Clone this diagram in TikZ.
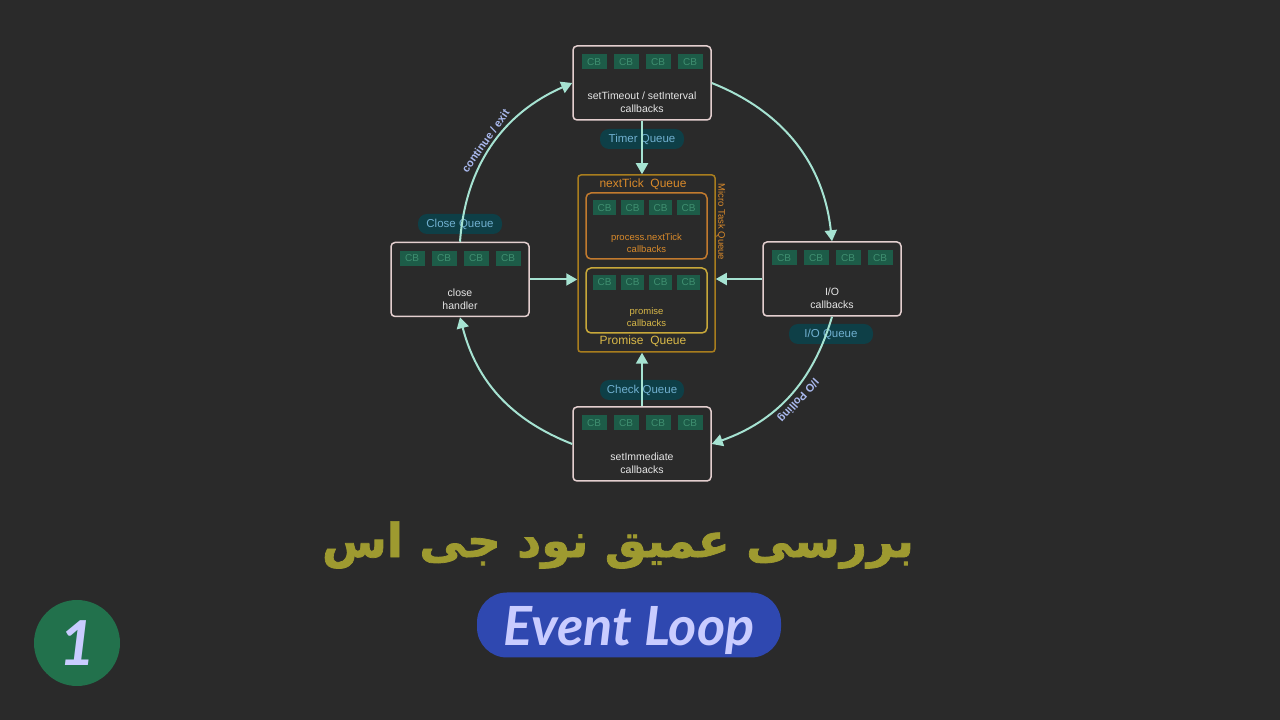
\documentclass[tikz,border=0pt]{standalone}
\usepackage{fontspec}
\setmainfont{Liberation Sans}
\newfontfamily\arabicfont[Script=Arabic,BoldFeatures={FakeBold=1.5}]{DejaVu Sans}
\newfontfamily\brushfont{Lato}
\TeXXeTstate=1
\usetikzlibrary{arrows.meta,positioning,calc,shapes.geometric}

\definecolor{bg}{HTML}{2A2A2A}
\definecolor{boxline}{HTML}{E4CFCF}
\definecolor{boxtext}{HTML}{E6E6E6}
\definecolor{cbfill}{HTML}{1D5C48}
\definecolor{cbtext}{HTML}{3F8F70}
\definecolor{microline}{HTML}{A87D1E}
\definecolor{tickline}{HTML}{C27A2E}
\definecolor{ticktext}{HTML}{D98A2B}
\definecolor{promline}{HTML}{C8A83A}
\definecolor{promtext}{HTML}{D8B848}
\definecolor{mint}{HTML}{A6E3D2}
\definecolor{pillfill}{HTML}{0E3F47}
\definecolor{pilltext}{HTML}{70B0D0}
\definecolor{arctext}{HTML}{AAB9EE}
\definecolor{persian}{HTML}{9E9A30}
\definecolor{evfill}{HTML}{2F48B0}
\definecolor{evtext}{HTML}{C9CCFF}
\definecolor{numfill}{HTML}{22714C}

\begin{document}
\begin{tikzpicture}[x=1pt,y=1pt,
		% Styles
		phase/.style={rectangle, draw=boxline, line width=1.5pt, rounded corners=4pt, fill=bg, minimum width=138pt, minimum height=74pt, inner sep=0pt},
		phasetext/.style={text=boxtext, font=\fontsize{10.5}{13}\selectfont, align=center},
		cb/.style={rectangle, fill=cbfill, text=cbtext, font=\fontsize{10}{10}\selectfont, minimum width=25pt, minimum height=15pt, inner sep=0pt},
		smallcb/.style={cb, minimum width=23pt},
		micro/.style={rectangle, draw=microline, line width=1.5pt, rounded corners=3pt, minimum width=137pt, minimum height=177pt, inner sep=0pt},
		inner/.style={rectangle, line width=1.5pt, rounded corners=5pt, minimum width=121pt, minimum height=65pt, inner sep=0pt},
		queue/.style={rectangle, rounded corners=9pt, fill=pillfill, text=pilltext, font=\fontsize{11.5}{12}\selectfont, minimum width=84pt, minimum height=20pt, inner sep=2pt},
		arclabel/.style={text=arctext, font=\bfseries\fontsize{11}{11}\selectfont, inner sep=3pt},
		% Arrows
		flow/.style={-{Triangle[length=11pt,width=12pt]}, line width=2pt, draw=mint},
		]

		% Background
		\fill[bg] (0,0) rectangle (1280,720);
		\path[use as bounding box] (0,0) rectangle (1280,720);

		% Loop phases
		\node[phase] (timers) at (642,637) {};
		\node[phase] (close) at (460,440.5) {};
		\node[phase] (io) at (832,441) {};
		\node[phase] (immediate) at (642,276) {};

		\node[phasetext] (timers-txt) at ([yshift=-19.5]timers.center) {setTimeout / setInterval\\callbacks};
		\node[phasetext] (close-txt) at ([yshift=-19.5]close.center) {close\\handler};
		\node[phasetext] (io-txt) at ([yshift=-19.5]io.center) {I/O\\callbacks};
		\node[phasetext] (immediate-txt) at ([yshift=-19.5]immediate.center) {setImmediate\\callbacks};

		\foreach \p in {timers,close,io,immediate}
			\foreach \dx [count=\i] in {-48,-16,16,48}
				\node[cb] (\p-cb\i) at ($(\p.center)+(\dx,21)$) {CB};

		% Micro task queue
		\node[micro] (microq) at (646.5,456.5) {};
		\node[font=\fontsize{12}{12}\selectfont, text=ticktext] (ticklabel) at (643,536) {nextTick\ \ Queue};
		\node[font=\fontsize{12}{12}\selectfont, text=promtext] (promlabel) at (643,379) {Promise\ \ Queue};
		\node[font=\fontsize{9.5}{9.5}\selectfont, text=ticktext, rotate=-90] (microlabel) at (721,498) {Micro Task Queue};

		\node[inner, draw=tickline, minimum height=66pt] (tickq) at (646.5,494) {};
		\node[inner, draw=promline] (promq) at (646.5,419.5) {};
		\node[font=\fontsize{9.5}{12}\selectfont, text=ticktext, align=center] (tick-txt) at ([yshift=-17]tickq.center) {process.nextTick\\callbacks};
		\node[font=\fontsize{9.5}{12}\selectfont, text=promtext, align=center] (prom-txt) at ([yshift=-17]promq.center) {promise\\callbacks};

		\foreach \q in {tickq,promq}
			\foreach \dx [count=\i] in {-42,-14,14,42}
				\node[smallcb] (\q-cb\i) at ($(\q.center)+(\dx,18)$) {CB};

		% Queue tags
		\node[queue] (timerq) at (642,581) {Timer Queue};
		\node[queue] (closeq) at (460,496) {Close Queue};
		\node[queue] (ioq) at (831,386) {I/O Queue};
		\node[queue] (checkq) at (642,330) {Check Queue};

		% Connections
		% Phases -> micro task queue
		\draw[flow] (timers.south) -- (timers.south |- microq.north);
		\draw[flow] (close.east) -- (close.east -| microq.west);
		\draw[flow] (io.west) -- (io.west -| microq.east);
		\draw[flow] (immediate.north) -- (immediate.north |- microq.south);

		% The loop itself
		\draw[flow] (timers.east) to[bend left=31] (io.north);
		\draw[flow] (io.south) to[bend left=27] node[arclabel, pos=0.48, above, sloped, allow upside down] {I/O Polling} (immediate.east);
		\draw[flow] (immediate.west) to[bend left=27] (close.south);
		\draw[flow] (close.north) to[bend left=31] node[arclabel, pos=0.5, above, sloped] {continue / exit} (timers.west);

		% Title
		\node[font=\arabicfont\bfseries\fontsize{47}{47}\selectfont, text=persian] (title) at (618,175) {\beginR بررسی عمیق نود جی اس\endR};

		% Event loop badge
		\node[rectangle, rounded corners=30pt, fill=evfill, minimum width=304pt, minimum height=65pt, inner sep=0pt] (eventloop) at (629,95) {};
		\node[text=evtext, font=\brushfont\bfseries\itshape\fontsize{54}{54}\selectfont] (eventloop-txt) at ([yshift=-6]eventloop.center) {Event Loop};

		% Episode number
		\node[circle, fill=numfill, minimum size=86pt, inner sep=0pt, text=evtext, font=\brushfont\bfseries\itshape\fontsize{62}{62}\selectfont] (episode) at (77,77) {1};

	\end{tikzpicture}
\end{document}
